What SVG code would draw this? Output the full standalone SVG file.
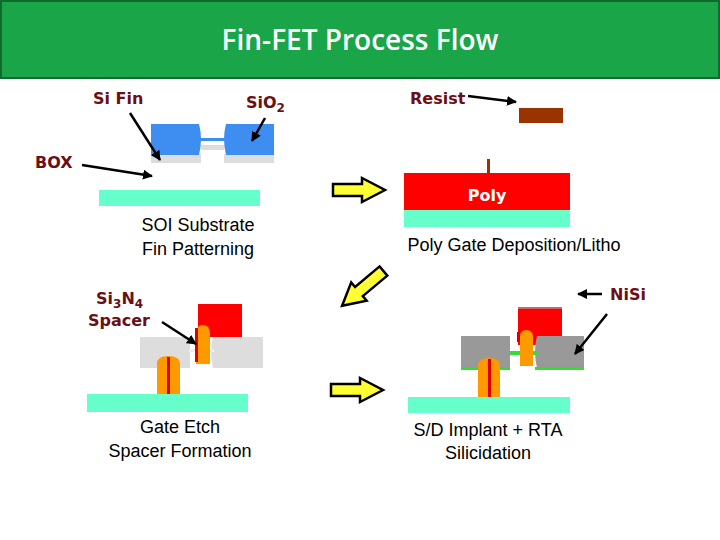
<svg xmlns="http://www.w3.org/2000/svg" width="720" height="540" viewBox="0 0 720 540">
<defs>
<style>
.lbl{font-family:"DejaVu Sans",sans-serif;font-weight:bold;font-size:16px;fill:#6b0f14}
.cap{font-family:"Liberation Sans",Arial,sans-serif;font-size:18px;fill:#000;text-anchor:middle}
.ln{stroke:#000;stroke-width:2.5;fill:none;marker-end:url(#ah)}
.ya{fill:#ffff33;stroke:#000;stroke-width:2.5}
.sub{fill:#66ffcc}
</style>
<marker id="ah" viewBox="0 0 10 10" refX="9" refY="5" markerWidth="4" markerHeight="4" orient="auto"><path d="M0,0L10,5L0,10z" fill="#000"/></marker>
</defs>
<rect width="720" height="540" fill="#fff"/>
<g id="header"><rect x="1" y="1" width="718" height="77" fill="#1aa648" stroke="#0e6b2c" stroke-width="2"/>
<text x="360" y="50" text-anchor="middle" font-family="Open Sans,sans-serif" font-weight="600" font-size="28" fill="#fff">Fin-FET Process Flow</text></g>
<g id="panel1">
<rect x="151" y="154" width="50" height="9" fill="#ddd"/><rect x="224" y="154" width="50" height="9" fill="#ddd"/>
<rect x="201" y="145" width="23" height="5" fill="#ddd"/>
<path d="M151,124H199Q203,139 199,155H151z" fill="#3d8ef0"/><path d="M226,124H274V155H226Q222,139 226,124z" fill="#3d8ef0"/>
<rect x="200" y="138" width="25" height="3" fill="#3d8ef0"/>
<rect x="99" y="190" width="161" height="16" class="sub"/>
<text x="93" y="104" class="lbl">Si Fin</text><text x="246" y="108" class="lbl">SiO<tspan font-size="12" dy="4">2</tspan></text>
<text x="35" y="168" class="lbl">BOX</text>
<text class="cap" x="198" y="231">SOI Substrate</text><text class="cap" x="198" y="255">Fin Patterning</text>
</g>
<g id="panel2">
<rect x="519" y="108" width="44" height="15" fill="#993300"/>
<rect x="487" y="159" width="3" height="14" fill="#993300"/>
<rect x="404" y="173" width="166" height="37" fill="#ff0000"/><rect x="404" y="210" width="166" height="17" class="sub"/>
<text x="487" y="201" text-anchor="middle" font-family="DejaVu Sans,sans-serif" font-weight="bold" font-size="16" fill="#fff">Poly</text>
<text x="410" y="104" class="lbl">Resist</text>
<text class="cap" x="514" y="251">Poly Gate Deposition/Litho</text>
</g>
<g id="panel3">
<rect x="198" y="304" width="44" height="33" fill="#ff0000"/>
<rect x="140" y="337" width="50" height="31" fill="#ddd"/><path d="M213,337H263V368H213Q209,352 213,337z" fill="#ddd"/>
<rect x="189" y="349" width="25" height="3" fill="#eee"/>
<path d="M196,364V334Q196,325 203,325Q210,325 210,334V364z" fill="#ff9900"/><rect x="195" y="328" width="3" height="34" fill="#dd0000"/>
<path d="M157,395V364Q157,356 168,356Q180,356 180,364V395z" fill="#ff9900"/><rect x="167" y="357" width="3" height="38" fill="#dd0000"/>
<rect x="87" y="394" width="161" height="18" class="sub"/>
<text x="96" y="304" class="lbl">Si<tspan font-size="12" dy="4">3</tspan><tspan dy="-4">N</tspan><tspan font-size="12" dy="4">4</tspan></text>
<text x="88" y="326" class="lbl">Spacer</text>
<text class="cap" x="180" y="433">Gate Etch</text><text class="cap" x="180" y="457">Spacer Formation</text>
</g>
<g id="panel4">
<rect x="518" y="308" width="44" height="37" fill="#ff0000"/><rect x="518" y="307" width="44" height="2" fill="#cc6666"/>
<rect x="461" y="336" width="49" height="32" fill="#999"/><path d="M537,336H584V368H537Q533,352 537,336z" fill="#999"/>
<rect x="509" y="351" width="28" height="4" fill="#33dd33"/>
<rect x="461" y="367" width="49" height="3" fill="#33dd33"/><rect x="535" y="367" width="49" height="3" fill="#33dd33"/>
<path d="M520,366V337Q520,330 526,330Q533,330 533,337V366z" fill="#ff9900"/><rect x="517" y="332" width="3" height="10" fill="#dd0000"/>
<path d="M478,397V366Q478,358 489,358Q500,358 500,366V397z" fill="#ff9900"/><rect x="488" y="359" width="3" height="38" fill="#dd0000"/>
<rect x="408" y="397" width="162" height="16" class="sub"/>
<text x="610" y="300" class="lbl">NiSi</text>
<text class="cap" x="488" y="436">S/D Implant + RTA</text><text class="cap" x="488" y="459">Silicidation</text>
</g>
<g id="connectors">
<line x1="130" y1="113" x2="160" y2="160" class="ln"/>
<line x1="265" y1="118" x2="252" y2="141" class="ln"/>
<line x1="82" y1="165" x2="152" y2="176" class="ln"/>
<line x1="468" y1="96" x2="516" y2="102" class="ln"/>
<line x1="162" y1="322" x2="196" y2="344" class="ln"/>
<line x1="607" y1="314" x2="575" y2="354" class="ln"/>
<line x1="602" y1="294" x2="578" y2="294" class="ln"/>
<path class="ya" d="M333,184H362V178L385,190L362,202V196H333z"/>
<path class="ya" transform="translate(362,289) rotate(140)" d="M-28,-6H4V-12L26,0L4,12V6H-28z"/>
<path class="ya" d="M331,384H360V378L383,390L360,402V396H331z"/>
</g>
</svg>
